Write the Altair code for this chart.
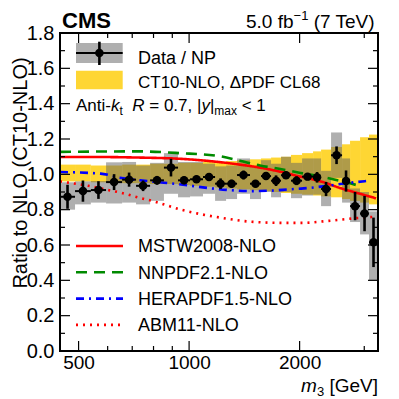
import altair as alt
import pandas as pd
import numpy as np

# ---------------- data ----------------
m3_edges = [445, 489, 540, 594, 657, 717, 783, 854, 933, 1006, 1091, 1177, 1261, 1351,
            1465, 1570, 1672, 1780, 1895, 2031, 2176, 2288, 2436, 2610, 2744, 2922, 3091, 3270]
data_ratio = [0.873, 0.905, 0.911, 0.956, 0.970, 0.935, 0.966, 1.038, 0.966, 0.972, 0.985,
              0.947, 0.947, 0.996, 0.947, 0.990, 0.964, 0.995, 0.964, 0.987, 0.983, 0.917,
              1.108, 0.962, 0.820, 0.778, 0.615]
stat_err = [0.068, 0.060, 0.050, 0.045, 0.040, 0.030, 0.025, 0.050, 0.022, 0.020, 0.022,
            0.030, 0.022, 0.025, 0.020, 0.020, 0.030, 0.020, 0.025, 0.020, 0.030, 0.040,
            0.050, 0.060, 0.080, 0.100, 0.140]
sys_lo = [0.800, 0.830, 0.840, 0.835, 0.840, 0.830, 0.850, 0.890, 0.870, 0.875, 0.890,
          0.850, 0.860, 0.890, 0.860, 0.900, 0.870, 0.900, 0.865, 0.880, 0.885, 0.820,
          0.980, 0.840, 0.730, 0.660, 0.400]
sys_hi = [0.955, 0.960, 0.962, 1.068, 1.070, 1.050, 1.065, 1.120, 1.070, 1.070, 1.060,
          1.045, 1.050, 1.090, 1.045, 1.080, 1.060, 1.100, 1.065, 1.090, 1.090, 1.020,
          1.237, 1.090, 0.920, 0.900, 0.790]
ct10_lo = [0.960, 0.960, 0.955, 0.955, 0.950, 0.950, 0.945, 0.945, 0.940, 0.935, 0.930,
           0.925, 0.920, 0.915, 0.910, 0.905, 0.900, 0.895, 0.890, 0.885, 0.880, 0.875,
           0.870, 0.860, 0.850, 0.840, 0.830]
ct10_hi = [1.055, 1.055, 1.050, 1.050, 1.055, 1.055, 1.060, 1.060, 1.065, 1.065, 1.070,
           1.070, 1.075, 1.080, 1.085, 1.090, 1.095, 1.100, 1.110, 1.120, 1.130, 1.140,
           1.155, 1.170, 1.190, 1.210, 1.225]

curve_names = ["MSTW2008-NLO", "NNPDF2.1-NLO", "HERAPDF1.5-NLO", "ABM11-NLO"]
mstw_m = [445, 574, 725, 944, 1202, 1375, 1560, 1772, 2011, 2283, 2592, 2943, 3230]
mstw_r = [1.098, 1.098, 1.095, 1.088, 1.070, 1.055, 1.038, 1.015, 0.987, 0.960, 0.921, 0.888, 0.864]
nnpdf_m = [445, 725, 944, 1202, 1375, 1560, 1772, 2011, 2283, 2592, 2943]
nnpdf_r = [1.127, 1.130, 1.120, 1.104, 1.077, 1.050, 1.030, 1.008, 0.987, 0.962, 0.932]
hera_m = [445, 574, 648, 768, 975, 1056, 1284, 1470, 1714, 1870, 2018, 2362, 2761, 3035]
hera_r = [1.013, 1.004, 0.981, 0.962, 0.940, 0.930, 0.911, 0.905, 0.909, 0.915, 0.919, 0.934, 0.953, 0.962]
abm_m = [445, 468, 531, 590, 655, 725, 808, 951, 1104, 1215, 1471, 1822, 2011, 2436, 2851, 3230]
abm_r = [0.960, 0.953, 0.935, 0.915, 0.895, 0.870, 0.845, 0.800, 0.770, 0.755, 0.732, 0.725,
         0.725, 0.738, 0.752, 0.760]

x_major = [500, 1000, 2000]
x_minor = [600, 700, 800, 900, 3000]
y_major = [0.0, 0.2, 0.4, 0.6, 0.8, 1.0, 1.2, 1.4, 1.6, 1.8]
y_minor = [0.1, 0.3, 0.5, 0.7, 0.9, 1.1, 1.3, 1.5, 1.7]

# ---------------- styling ----------------
W, H = 318, 318
FONT = "Liberation Sans"
YELLOW = "#fed633"
GRAY = "#606060"
curve_colors = ["#ff0000", "#008a00", "#0000ff", "#ff0000"]
curve_dash = [[1, 0], [11, 7], [8, 5, 2, 5], [2, 5]]

xscale = alt.Scale(type="log", domain=[445, 3270], nice=False)
yscale = alt.Scale(domain=[0, 1.8], nice=False, zero=False)
axis_common = dict(ticks=False, domain=False, grid=False, labelFont=FONT,
                   labelColor="black", title=None)
XAX = alt.Axis(values=x_major, format="d", labelPadding=2, labelFlush=False,
               labelFontSize=19, **axis_common)
YAX = alt.Axis(values=y_major, format=".1f", labelPadding=6, labelFontSize=20, **axis_common)


def X(f):
    return alt.X(f, scale=xscale, axis=XAX, title=None)


def Y(f):
    return alt.Y(f, scale=yscale, axis=YAX, title=None)


lo = np.array(m3_edges[:-1], dtype=float)
hi = np.array(m3_edges[1:], dtype=float)
r = np.array(data_ratio)
st = np.array(stat_err)
bins = pd.DataFrame(dict(lo=lo, hi=hi, c=np.sqrt(lo * hi), r=r, elo=r - st, ehi=r + st,
                         slo=sys_lo, shi=sys_hi, clo=ct10_lo, chi=ct10_hi))

band = alt.Chart(bins).mark_rect(color=YELLOW, opacity=1).encode(
    x=X("lo:Q"), x2="hi:Q", y=Y("clo:Q"), y2="chi:Q")
sysbox = alt.Chart(bins).mark_rect(color=GRAY, opacity=0.5).encode(
    x=X("lo:Q"), x2="hi:Q", y=Y("slo:Q"), y2="shi:Q")

curve_data = [(mstw_m, mstw_r), (nnpdf_m, nnpdf_r), (hera_m, hera_r), (abm_m, abm_r)]
curves = []
for (mm, rr), col, dash in zip(curve_data, curve_colors, curve_dash):
    df = pd.DataFrame({"m": mm, "r": rr})
    curves.append(alt.Chart(df).mark_line(color=col, strokeDash=dash, strokeWidth=2.6,
                                          interpolate="monotone", clip=True).encode(
        x=X("m:Q"), y=Y("r:Q")))

hbar = alt.Chart(bins).mark_rule(color="black", strokeWidth=2).encode(
    x=X("lo:Q"), x2="hi:Q", y=Y("r:Q"))
vbar = alt.Chart(bins).mark_rule(color="black", strokeWidth=2.6).encode(
    x=X("c:Q"), y=Y("elo:Q"), y2="ehi:Q")
pts = alt.Chart(bins).mark_circle(color="black", size=72, opacity=1).encode(
    x=X("c:Q"), y=Y("r:Q"))

# ---------------- inward ticks on all four sides + frame ----------------
ticks = []
for vals, L in ((x_major, 10), (x_minor, 5)):
    d = pd.DataFrame({"m": vals})
    for y0, y1 in ((H, H - L), (0, L)):
        ticks.append(alt.Chart(d).mark_rule(color="black", strokeWidth=1.2).encode(
            x=X("m:Q"), y=alt.value(y0), y2=alt.value(y1)))
for vals, L in ((y_major, 10), (y_minor, 5)):
    d = pd.DataFrame({"v": vals})
    for x0, x1 in ((0, L), (W, W - L)):
        ticks.append(alt.Chart(d).mark_rule(color="black", strokeWidth=1.2).encode(
            y=Y("v:Q"), x=alt.value(x0), x2=alt.value(x1)))

one = pd.DataFrame({"a": [0]})
frame = alt.Chart(one).mark_rect(fillOpacity=0, stroke="black", strokeWidth=2).encode(
    x=alt.value(0), x2=alt.value(W), y=alt.value(0), y2=alt.value(H))

# ---------------- text helpers ----------------
HW = {' ': 278, 'A': 667, 'n': 556, 't': 278, 'i': 222, '-': 333, 'k': 500, 'R': 722,
      '=': 584, '0': 556, '.': 278, '7': 556, ',': 278, '|': 260, 'y': 500, 'm': 833,
      'a': 556, 'x': 500, '<': 584, '1': 556, '5': 556, 'f': 278, 'b': 556, '(': 333,
      ')': 333, 'T': 611, 'e': 556, 'V': 667, '\u2212': 584, 'G': 778, '[': 278, ']': 278,
      '3': 556}


def tw(s, size):
    return sum(HW.get(c, 556) for c in s) * size / 1000.0


def txt(s, x, y, size, align="left", baseline="alphabetic", style="normal",
        weight="normal", angle=0):
    kw = dict(font=FONT, fontSize=size, align=align, baseline=baseline,
              fontStyle=style, fontWeight=weight, color="black")
    if angle:
        kw["angle"] = angle
    return alt.Chart(one).mark_text(**kw).encode(
        x=alt.value(x), y=alt.value(y), text=alt.value(s))


def run(pieces, x0, y):
    out = []
    x = x0
    for s, size, style, dy in pieces:
        lead = len(s) - len(s.lstrip(' '))
        x += tw(' ' * lead, size)
        core = s.strip(' ')
        if core:
            out.append(txt(core, x, y + dy, size, style=style))
        x += tw(core, size)
        trail = len(s) - len(s.rstrip(' '))
        x += tw(' ' * trail, size)
    return out, x


texts = []
texts.append(txt("CMS", 2, -5, 22, weight="bold"))
lumi = [("5.0 fb", 19, "normal", 0), ("\u22121", 13, "normal", -8), (" (7 TeV)", 19, "normal", 0)]
total = sum(tw(s, sz) for s, sz, _, _ in lumi)
t, _ = run(lumi, 317 - total, -5)
texts += t

texts.append(txt("Ratio to NLO (CT10-NLO)", -39, 140, 20, align="center",
                 baseline="middle", angle=270))
xt = [("m", 19, "italic", 0), ("3", 13, "normal", 4), (" [GeV]", 19, "normal", 0)]
total = sum(tw(s, sz) for s, sz, _, _ in xt)
t, _ = run(xt, W - total, H + 41)
texts += t

legend = []
legend.append(alt.Chart(one).mark_rect(color=GRAY, opacity=0.5).encode(
    x=alt.value(16), x2=alt.value(62.7), y=alt.value(10), y2=alt.value(30)))
legend.append(alt.Chart(one).mark_rule(color="black", strokeWidth=2).encode(
    x=alt.value(16), x2=alt.value(62.7), y=alt.value(20)))
legend.append(alt.Chart(one).mark_rule(color="black", strokeWidth=2.6).encode(
    x=alt.value(39.4), y=alt.value(8.7), y2=alt.value(32)))
legend.append(alt.Chart(one).mark_circle(color="black", size=72, opacity=1).encode(
    x=alt.value(39.4), y=alt.value(20)))
legend.append(alt.Chart(one).mark_rect(color=YELLOW, opacity=1).encode(
    x=alt.value(16), x2=alt.value(62.7), y=alt.value(37.7), y2=alt.value(56.3)))
texts.append(txt("Data / NP", 78, 31, 18))
texts.append(txt("CT10-NLO, \u0394PDF CL68", 78, 55, 17))
akt = [("Anti-", 17, "normal", 0), ("k", 17, "italic", 0), ("t", 12, "normal", 4),
       (" ", 17, "normal", 0), ("R", 17, "italic", 0), (" = 0.7, |", 17, "normal", 0),
       ("y", 17, "italic", 0), ("|", 17, "normal", 0), ("max", 12, "normal", 4),
       (" < 1", 17, "normal", 0)]
t, _ = run(akt, 16, 78)
texts += t

for i, (name, col, dash) in enumerate(zip(curve_names, curve_colors, curve_dash)):
    yy = 213 + 26.3 * i
    legend.append(alt.Chart(one).mark_rule(color=col, strokeDash=dash, strokeWidth=2.6).encode(
        x=alt.value(16), x2=alt.value(63), y=alt.value(yy)))
    texts.append(txt(name, 78, yy + 6.3, 18))

chart = alt.layer(band, sysbox, *curves, hbar, vbar, pts, *ticks, frame, *legend, *texts).properties(
    width=W, height=H,
    background="white",
    autosize=alt.AutoSizeParams(type="none"),
    padding={"left": 52, "top": 25, "right": 8, "bottom": 48},
).configure_view(stroke=None)

chart.save("out.html", embed_options={"renderer": "svg", "actions": False})
